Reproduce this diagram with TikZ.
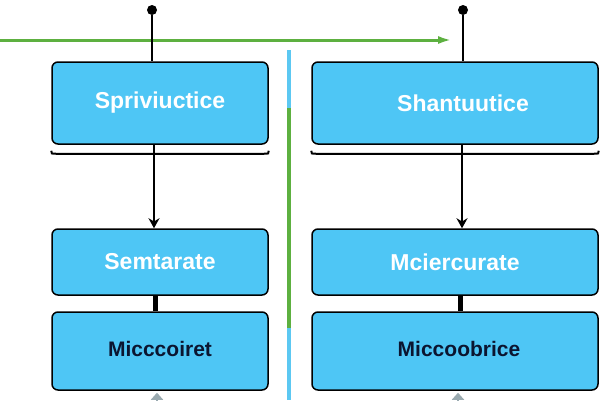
\documentclass[tikz,border=0pt]{standalone}
\usepackage{fontspec}
\setmainfont{Liberation Sans}
\usetikzlibrary{arrows.meta,calc}
\definecolor{boxfill}{HTML}{4EC6F5}
\definecolor{grn}{HTML}{5DB040}
\definecolor{divblue}{HTML}{5CC8F2}
\definecolor{darktext}{HTML}{0B1530}
\definecolor{tipgray}{HTML}{9AAAB0}
\begin{document}
\begin{tikzpicture}[x=1pt,y=-1pt,
  svcbox/.style={draw=black, line width=1.5pt, fill=boxfill, rounded corners=6pt,
    inner sep=0pt, font=\bfseries\fontsize{23}{26}\selectfont, text=white},
  lowbox/.style={svcbox, text=darktext, font=\bfseries\fontsize{21}{24}\selectfont},
  conn/.style={draw=black, line width=2pt},
  thick conn/.style={draw=black, line width=5pt},
  bracketline/.style={draw=black, line width=2pt},
  dotmark/.style={circle, fill=black, inner sep=0pt, minimum size=10pt}
]
\useasboundingbox (0,0) rectangle (600,400);
\fill[white] (0,0) rectangle (600,400);

% green arrow
\coordinate (gs) at (0,40);
\coordinate (ge) at (452,40);
\draw[grn, line width=3pt, -{Latex[length=14pt,width=8pt]}] (gs) -- (ge);

% divider
\coordinate (d0) at (289,50);
\coordinate (d1) at (289,108);
\coordinate (d2) at (289,328);
\coordinate (d3) at (289,400);
\draw[divblue, line width=4pt] (d0) -- (d1);
\draw[grn, line width=4pt] (d1) -- (d2);
\draw[divblue, line width=4pt] (d2) -- (d3);

% left column
\node[svcbox, minimum width=216pt, minimum height=82pt] (l1) at (160,103) {\raisebox{-2pt}{Spriviuctice}};
\node[svcbox, minimum width=216pt, minimum height=66pt] (l2) at (160,262) {\raisebox{-4pt}{Semtarate}};
\node[lowbox, minimum width=216pt, minimum height=78pt] (l3) at (160,351) {\raisebox{5pt}{Micccoiret}};
\node[dotmark] (ldot) at (152,10) {};
\coordinate (lx) at (154,0);
\coordinate (lb) at (157,0);

% right column
\node[svcbox, minimum width=286pt, minimum height=82pt] (r1) at (455,103) {\hspace{16pt}Shantuutice};
\node[svcbox, minimum width=286pt, minimum height=66pt] (r2) at (455,262) {\raisebox{-4pt}{Mciercurate}};
\node[lowbox, minimum width=286pt, minimum height=78pt] (r3) at (455,351) {\raisebox{5pt}{\hspace{8pt}Miccoobrice}};
\node[dotmark] (rdot) at (463,10) {};
\coordinate (rx) at (462,0);
\coordinate (rb) at (458,0);

% connectors left
\draw[conn] (ldot) -- (ldot |- l1.north);
\draw[conn, -{Stealth[length=10pt,width=11pt]}] (l1.south -| lx) -- (l2.north -| lx);
\draw[thick conn] (l2.south -| 155,0) -- (l3.north -| 155,0);
\coordinate (lbot) at (157,408);
\draw[tipgray, line width=2pt, -{Triangle[length=7pt,width=12pt]}, shorten >=2pt] (lbot) -- (l3.south -| lb);

% connectors right
\draw[conn] (rdot) -- (rdot |- r1.north);
\draw[conn, -{Stealth[length=10pt,width=11pt]}] (r1.south -| rx) -- (r2.north -| rx);
\draw[thick conn] (r2.south -| 460,0) -- (r3.north -| 460,0);
\coordinate (rbot) at (458,408);
\draw[tipgray, line width=2pt, -{Triangle[length=7pt,width=12pt]}, shorten >=2pt] (rbot) -- (r3.south -| rb);

% brackets under top boxes
\draw[bracketline] ($(l1.south west)+(0,6)$) .. controls ($(l1.south west)+(0,9)$) .. ($(l1.south west)+(5,9)$)
  -- ($(l1.south east)+(-5,9)$) .. controls ($(l1.south east)+(0,9)$) .. ($(l1.south east)+(0,6)$);
\draw[bracketline] ($(r1.south west)+(0,6)$) .. controls ($(r1.south west)+(0,9)$) .. ($(r1.south west)+(5,9)$)
  -- ($(r1.south east)+(-5,9)$) .. controls ($(r1.south east)+(0,9)$) .. ($(r1.south east)+(0,6)$);
\end{tikzpicture}
\end{document}
